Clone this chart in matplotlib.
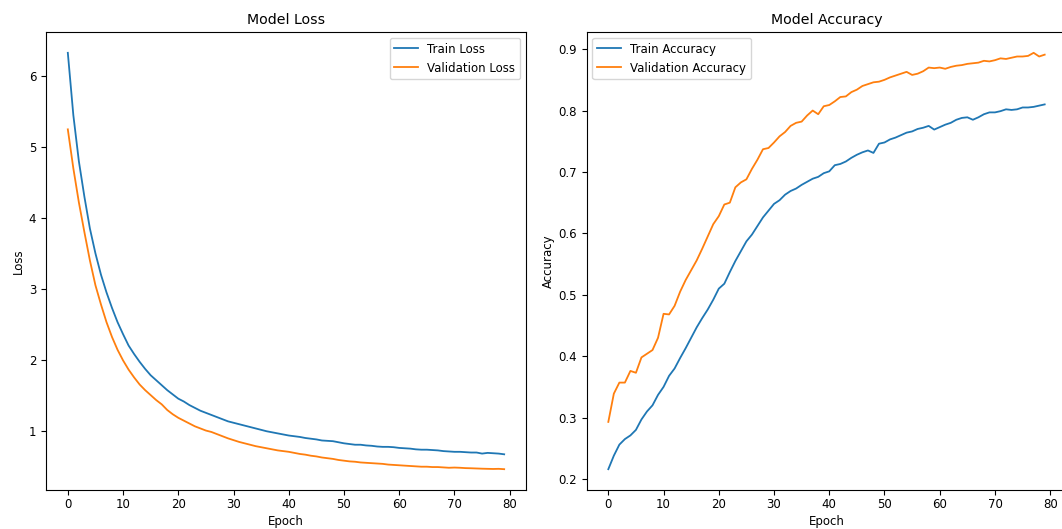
import numpy as np
import matplotlib
matplotlib.use('Agg')
import matplotlib.pyplot as plt

# values, one per epoch (0..79)
train_loss = [6.33, 5.45, 4.80, 4.30, 3.85, 3.50, 3.20, 2.95, 2.73, 2.53,
              2.36, 2.20, 2.08, 1.97, 1.87, 1.78, 1.71, 1.64, 1.57, 1.51,
              1.45, 1.41, 1.36, 1.32, 1.28, 1.25, 1.22, 1.19, 1.16, 1.13,
              1.11, 1.09, 1.07, 1.05, 1.03, 1.01, 0.99, 0.975, 0.96, 0.945,
              0.93, 0.92, 0.91, 0.895, 0.885, 0.875, 0.86, 0.855, 0.85, 0.835,
              0.82, 0.81, 0.80, 0.80, 0.79, 0.785, 0.775, 0.77, 0.77, 0.765,
              0.755, 0.75, 0.745, 0.735, 0.73, 0.73, 0.725, 0.72, 0.71, 0.705,
              0.70, 0.70, 0.695, 0.69, 0.69, 0.675, 0.685, 0.68, 0.675, 0.665]
val_loss = [5.25, 4.70, 4.22, 3.80, 3.40, 3.05, 2.78, 2.53, 2.32, 2.14,
            1.99, 1.86, 1.75, 1.65, 1.57, 1.50, 1.43, 1.37, 1.29, 1.23,
            1.18, 1.14, 1.10, 1.06, 1.03, 1.00, 0.98, 0.95, 0.92, 0.89,
            0.865, 0.84, 0.82, 0.80, 0.78, 0.765, 0.75, 0.735, 0.72, 0.71,
            0.70, 0.685, 0.67, 0.66, 0.645, 0.635, 0.62, 0.61, 0.60, 0.585,
            0.575, 0.565, 0.56, 0.55, 0.545, 0.54, 0.535, 0.53, 0.52, 0.515,
            0.51, 0.505, 0.50, 0.495, 0.49, 0.49, 0.485, 0.485, 0.48, 0.475,
            0.478, 0.475, 0.47, 0.468, 0.465, 0.462, 0.46, 0.458, 0.46, 0.455]
train_acc = [0.216, 0.238, 0.256, 0.265, 0.271, 0.280, 0.297, 0.310, 0.320, 0.337,
             0.350, 0.368, 0.380, 0.397, 0.413, 0.430, 0.447, 0.462, 0.476, 0.492,
             0.510, 0.518, 0.537, 0.555, 0.571, 0.587, 0.598, 0.612, 0.626, 0.637,
             0.648, 0.654, 0.663, 0.669, 0.673, 0.679, 0.684, 0.689, 0.692, 0.698,
             0.701, 0.711, 0.713, 0.717, 0.723, 0.728, 0.732, 0.735, 0.731, 0.746,
             0.748, 0.753, 0.756, 0.760, 0.764, 0.766, 0.770, 0.772, 0.775, 0.769,
             0.773, 0.777, 0.780, 0.785, 0.788, 0.789, 0.785, 0.789, 0.794, 0.797,
             0.797, 0.799, 0.802, 0.801, 0.802, 0.805, 0.805, 0.806, 0.808, 0.810]
val_acc = [0.293, 0.339, 0.357, 0.357, 0.376, 0.373, 0.398, 0.404, 0.410, 0.430,
           0.469, 0.468, 0.482, 0.505, 0.524, 0.540, 0.556, 0.575, 0.595, 0.615,
           0.628, 0.647, 0.650, 0.675, 0.683, 0.688, 0.705, 0.720, 0.737, 0.739,
           0.748, 0.758, 0.765, 0.775, 0.780, 0.782, 0.792, 0.800, 0.794, 0.807,
           0.809, 0.815, 0.822, 0.823, 0.830, 0.834, 0.840, 0.843, 0.846, 0.847,
           0.850, 0.854, 0.857, 0.860, 0.863, 0.858, 0.860, 0.864, 0.870, 0.869,
           0.870, 0.868, 0.871, 0.873, 0.874, 0.876, 0.877, 0.878, 0.881, 0.880,
           0.882, 0.885, 0.884, 0.886, 0.888, 0.888, 0.889, 0.894, 0.888, 0.891]
epochs = np.arange(len(train_loss))

plt.rcParams['font.size'] = 8.5
plt.rcParams['lines.linewidth'] = 1.3
plt.rcParams['xtick.major.pad'] = 2.5
plt.rcParams['axes.labelpad'] = 2.5

W, H = 1062, 529
fig = plt.figure(figsize=(W / 100, H / 100), dpi=100)
# right panel runs past the picture edge, as in the reference crop
ax1 = fig.add_axes([46 / W, 39 / H, 480 / W, 458 / H])
ax2 = fig.add_axes([586.5 / W, 39 / H, 480 / W, 458 / H])

ax1.plot(epochs, train_loss, label='Train Loss')
ax1.plot(epochs, val_loss, label='Validation Loss')
ax1.set_title('Model Loss')
ax1.set_xlabel('Epoch')
ax1.set_ylabel('Loss')
ax1.legend(loc='upper right')

ax2.plot(epochs, train_acc, label='Train Accuracy')
ax2.plot(epochs, val_acc, label='Validation Accuracy')
ax2.set_title('Model Accuracy')
ax2.set_xlabel('Epoch')
ax2.set_ylabel('Accuracy')
ax2.legend(loc='upper left')

fig.savefig('out.png', dpi=100)
